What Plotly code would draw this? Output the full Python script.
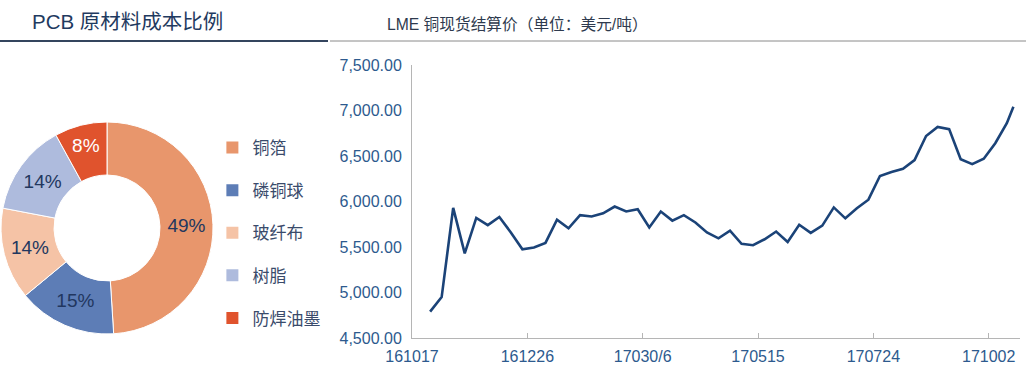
import plotly.graph_objects as go

# ---------------- data ----------------
pie_labels = ["铜箔", "磷铜球", "玻纤布", "树脂", "防焊油墨"]
pie_values = [49, 15, 14, 14, 8]
pie_colors = ["#E8966C", "#5D7DB6", "#F5C3A6", "#AEBBDD", "#E0532D"]
pie_text_colors = ["#22375F", "#22375F", "#22375F", "#22375F", "#FFFFFF"]

lme_dates = [
    "2016-10-28", "2016-11-04", "2016-11-11", "2016-11-18", "2016-11-25",
    "2016-12-02", "2016-12-09", "2016-12-16", "2016-12-23", "2016-12-30",
    "2017-01-06", "2017-01-13", "2017-01-20", "2017-01-27", "2017-02-03",
    "2017-02-10", "2017-02-17", "2017-02-24", "2017-03-03", "2017-03-10",
    "2017-03-17", "2017-03-24", "2017-03-31", "2017-04-07", "2017-04-14",
    "2017-04-21", "2017-04-28", "2017-05-05", "2017-05-12", "2017-05-19",
    "2017-05-26", "2017-06-02", "2017-06-09", "2017-06-16", "2017-06-23",
    "2017-06-30", "2017-07-07", "2017-07-14", "2017-07-21", "2017-07-28",
    "2017-08-04", "2017-08-11", "2017-08-18", "2017-08-25", "2017-09-01",
    "2017-09-08", "2017-09-15", "2017-09-22", "2017-09-29", "2017-10-06",
    "2017-10-13", "2017-10-17",
]
lme_prices = [
    4790, 4950, 5930, 5430, 5820, 5740, 5830, 5660, 5475, 5495,
    5545, 5800, 5705, 5850, 5835, 5870, 5945, 5890, 5915, 5715,
    5890, 5790, 5850, 5770, 5660, 5595, 5680, 5535, 5520, 5585,
    5670, 5555, 5745, 5655, 5735, 5935, 5815, 5925, 6020, 6280,
    6325, 6360, 6455, 6720, 6820, 6795, 6465, 6410, 6470, 6640,
    6860, 7040,
]
x_tick_dates = ["2016-10-17", "2016-12-26", "2017-03-06", "2017-05-15", "2017-07-24", "2017-10-02"]
x_tick_labels = ["161017", "161226", "17030/6", "170515", "170724", "171002"]
y_tick_values = [4500, 5000, 5500, 6000, 6500, 7000, 7500]

FONT = "Liberation Sans, Arial, Noto Sans CJK SC, sans-serif"
W, H = 1026, 377

fig = go.Figure()

# ---------------- donut ----------------
cx, cy, r = 107, 228, 106
fig.add_trace(go.Pie(
    labels=pie_labels,
    values=pie_values,
    hole=0.5,
    sort=False,
    direction="clockwise",
    rotation=0,
    marker=dict(colors=pie_colors, line=dict(color="white", width=1)),
    texttemplate="%{value}%",
    textposition="inside",
    insidetextorientation="horizontal",
    textfont=dict(family=FONT, size=19, color=pie_text_colors),
    showlegend=False,
    automargin=False,
    domain=dict(x=[(cx - r) / W, (cx + r) / W], y=[(H - cy - r) / H, (H - cy + r) / H]),
))

# legend entries (one group each to control spacing)
for lab, col in zip(pie_labels, pie_colors):
    fig.add_trace(go.Scatter(
        x=[None], y=[None], mode="markers", name=lab, legendgroup=lab,
        marker=dict(symbol="square", size=12, color=col),
        xaxis="x", yaxis="y",
    ))

# ---------------- line ----------------
fig.add_trace(go.Scatter(
    x=lme_dates, y=lme_prices, mode="lines",
    line=dict(color="#1B4378", width=2.6),
    showlegend=False, xaxis="x", yaxis="y",
))

x0, x1 = 412, 1020
ytop, ybot = 65, 338
fig.update_layout(
    template="none",
    width=W, height=H,
    autosize=False,
    margin=dict(l=0, r=0, t=0, b=0, pad=0, autoexpand=False),
    paper_bgcolor="white", plot_bgcolor="white",
    font=dict(family=FONT),
    xaxis=dict(
        domain=[x0 / W, x1 / W], type="date", automargin=False,
        range=["2016-10-17", "2017-10-21"],
        tickvals=x_tick_dates, ticktext=x_tick_labels,
        showline=True, linecolor="#B5B5B5", linewidth=1,
        ticks="inside", ticklen=5, tickcolor="#B5B5B5",
        showgrid=False, zeroline=False,
        ticklabelstandoff=4,
        tickfont=dict(family=FONT, size=16, color="#2D5A8E"),
    ),
    yaxis=dict(
        domain=[(H - ybot) / H, (H - ytop) / H], automargin=False,
        range=[4500, 7500], tickvals=y_tick_values, tickformat=",.2f",
        showline=True, linecolor="#B5B5B5", linewidth=1,
        ticks="", showgrid=False, zeroline=False,
        ticklabelstandoff=6,
        tickfont=dict(family=FONT, size=16, color="#2D5A8E"),
    ),
    legend=dict(
        x=0.207, y=1 - 130 / H, xanchor="left", yanchor="top",
        font=dict(family="Noto Sans CJK SC, sans-serif", size=17, color="#3A4B6B"),
        tracegroupgap=17.5, itemsizing="constant", bgcolor="rgba(0,0,0,0)",
    ),
)

# ---------------- titles and rules ----------------
fig.add_annotation(
    text="PCB 原材料成本比例", xref="paper", yref="paper",
    x=30 / W, y=1 - 21 / H, xanchor="left", yanchor="middle", showarrow=False,
    font=dict(family="Liberation Sans, Noto Sans CJK SC", size=20.5, color="#1F3A60"),
)
fig.add_annotation(
    text="LME 铜现货结算价（单位：美元/吨）", xref="paper", yref="paper",
    x=385 / W, y=1 - 24 / H, xanchor="left", yanchor="middle", showarrow=False,
    font=dict(family="Liberation Sans, Noto Sans CJK SC", size=15.7, color="#2E3A4E"),
)
fig.add_shape(type="line", xref="paper", yref="paper",
              x0=0, x1=328 / W, y0=1 - 41 / H, y1=1 - 41 / H,
              line=dict(color="#34455E", width=2))
fig.add_shape(type="line", xref="paper", yref="paper",
              x0=330 / W, x1=1, y0=1 - 41 / H, y1=1 - 41 / H,
              line=dict(color="#8A8A8A", width=1))

fig.write_html(
    "out.html", include_plotlyjs=True,
    config={"responsive": False, "displayModeBar": False, "staticPlot": True},
    post_script="document.body.style.margin='0';document.body.style.overflow='hidden';",
)
